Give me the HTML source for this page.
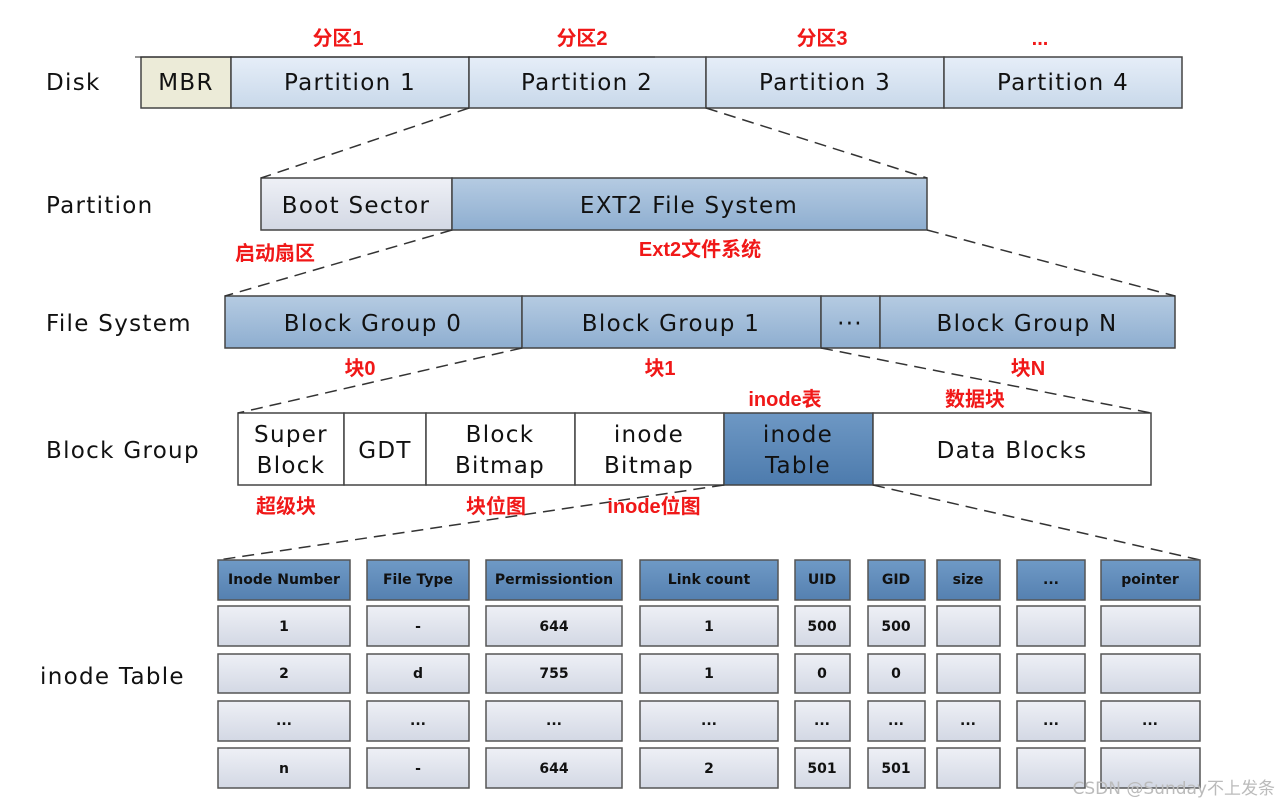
<!DOCTYPE html>
<html><head><meta charset="utf-8"><style>
html,body{margin:0;padding:0;background:#fff;}
svg{display:block;}
text{font-family:"DejaVu Sans","Noto Sans CJK SC",sans-serif;}
.l{font-size:23px;fill:#111;letter-spacing:1.3px;}
.b{font-size:23px;fill:#111;text-anchor:middle;letter-spacing:1.3px;}
.r{font-size:20px;fill:#f01818;font-weight:bold;text-anchor:middle;font-family:"Liberation Sans","Noto Sans CJK SC",sans-serif;}
.t{font-size:14px;font-weight:bold;fill:#111;text-anchor:middle;}
.d{stroke:#333;stroke-width:1.5;stroke-dasharray:12 7;fill:none;}
.c{fill:url(#gc);stroke:#555;stroke-width:1.5;}
.h{fill:url(#hd);stroke:#555;stroke-width:1.5;}
</style></head><body>
<svg width="1280" height="807" viewBox="0 0 1280 807">
<defs>
<linearGradient id="lb" x1="0" y1="0" x2="0" y2="1"><stop offset="0" stop-color="#e6eef8"/><stop offset="1" stop-color="#c8d8ea"/></linearGradient>
<linearGradient id="mb" x1="0" y1="0" x2="0" y2="1"><stop offset="0" stop-color="#b5cbe2"/><stop offset="1" stop-color="#8eaed0"/></linearGradient>
<linearGradient id="db" x1="0" y1="0" x2="0" y2="1"><stop offset="0" stop-color="#6e98c4"/><stop offset="1" stop-color="#4d7bad"/></linearGradient>
<linearGradient id="gc" x1="0" y1="0" x2="0" y2="1"><stop offset="0" stop-color="#eef0f6"/><stop offset="1" stop-color="#d3d8e4"/></linearGradient>
<linearGradient id="hd" x1="0" y1="0" x2="0" y2="1"><stop offset="0" stop-color="#6f9ac6"/><stop offset="1" stop-color="#5580b0"/></linearGradient>
</defs>
<g stroke="#444" stroke-width="1.5">
<rect x="141" y="57" width="90" height="51" fill="#ecebd8"/>
<rect x="231" y="57" width="238" height="51" fill="url(#lb)"/>
<rect x="469" y="57" width="237" height="51" fill="url(#lb)"/>
<rect x="706" y="57" width="238" height="51" fill="url(#lb)"/>
<rect x="944" y="57" width="238" height="51" fill="url(#lb)"/>
<rect x="261" y="178" width="191" height="52" fill="url(#gc)"/>
<rect x="452" y="178" width="475" height="52" fill="url(#mb)"/>
<rect x="225" y="296" width="297" height="52" fill="url(#mb)"/>
<rect x="522" y="296" width="299" height="52" fill="url(#mb)"/>
<rect x="821" y="296" width="59" height="52" fill="url(#mb)"/>
<rect x="880" y="296" width="295" height="52" fill="url(#mb)"/>
<rect x="238" y="413" width="106" height="72" fill="#fff"/>
<rect x="344" y="413" width="82" height="72" fill="#fff"/>
<rect x="426" y="413" width="149" height="72" fill="#fff"/>
<rect x="575" y="413" width="149" height="72" fill="#fff"/>
<rect x="724" y="413" width="149" height="72" fill="url(#db)"/>
<rect x="873" y="413" width="278" height="72" fill="#fff"/>
</g>
<line x1="135" y1="57" x2="655" y2="57" stroke="#222" stroke-width="1"/>
<path class="d" d="M469 108L261 178M706 108L927 178M452 230L225 296M927 230L1175 296M522 348L238 413M821 348L1151 413M724 485L218 560M873 485L1200 560"/>
<text class="l" x="46" y="90">Disk</text>
<text class="l" x="46" y="213">Partition</text>
<text class="l" x="46" y="331">File System</text>
<text class="l" x="46" y="458">Block Group</text>
<text class="l" x="40" y="684">inode Table</text>
<text class="b" x="186" y="90">MBR</text>
<text class="b" x="350" y="90">Partition 1</text>
<text class="b" x="587" y="90">Partition 2</text>
<text class="b" x="825" y="90">Partition 3</text>
<text class="b" x="1063" y="90">Partition 4</text>
<text class="b" x="356" y="213">Boot Sector</text>
<text class="b" x="689" y="213">EXT2 File System</text>
<text class="b" x="373" y="331">Block Group 0</text>
<text class="b" x="671" y="331">Block Group 1</text>
<text class="b" x="850" y="331">···</text>
<text class="b" x="1027" y="331">Block Group N</text>
<text class="b" x="291" y="442">Super</text><text class="b" x="291" y="473">Block</text>
<text class="b" x="385" y="458">GDT</text>
<text class="b" x="500" y="442">Block</text><text class="b" x="500" y="473">Bitmap</text>
<text class="b" x="649" y="442">inode</text><text class="b" x="649" y="473">Bitmap</text>
<text class="b" x="798" y="442">inode</text><text class="b" x="798" y="473">Table</text>
<text class="b" x="1012" y="458">Data Blocks</text>
<text class="r" x="338" y="45">分区1</text>
<text class="r" x="582" y="45">分区2</text>
<text class="r" x="822" y="45">分区3</text>
<text class="r" x="1040" y="45">...</text>
<text class="r" x="275" y="260">启动扇区</text>
<text class="r" x="700" y="256">Ext2文件系统</text>
<text class="r" x="360" y="375">块0</text>
<text class="r" x="660" y="375">块1</text>
<text class="r" x="1028" y="375">块N</text>
<text class="r" x="785" y="406">inode表</text>
<text class="r" x="975" y="406">数据块</text>
<text class="r" x="286" y="513">超级块</text>
<text class="r" x="496" y="513">块位图</text>
<text class="r" x="654" y="513">inode位图</text>

<rect class="h" x="218" y="560" width="132" height="40"/><rect class="h" x="367" y="560" width="102" height="40"/><rect class="h" x="486" y="560" width="136" height="40"/><rect class="h" x="640" y="560" width="138" height="40"/><rect class="h" x="795" y="560" width="55" height="40"/><rect class="h" x="868" y="560" width="57" height="40"/><rect class="h" x="937" y="560" width="63" height="40"/><rect class="h" x="1017" y="560" width="68" height="40"/><rect class="h" x="1101" y="560" width="99" height="40"/>
<text class="t" x="284" y="584">Inode Number</text><text class="t" x="418" y="584">File Type</text><text class="t" x="554" y="584">Permissiontion</text><text class="t" x="709" y="584">Link count</text><text class="t" x="822" y="584">UID</text><text class="t" x="896" y="584">GID</text><text class="t" x="968" y="584">size</text><text class="t" x="1051" y="584">...</text><text class="t" x="1150" y="584">pointer</text>

<g>
<rect class="c" x="218" y="606" width="132" height="40"/><rect class="c" x="367" y="606" width="102" height="40"/><rect class="c" x="486" y="606" width="136" height="40"/><rect class="c" x="640" y="606" width="138" height="40"/><rect class="c" x="795" y="606" width="55" height="40"/><rect class="c" x="868" y="606" width="57" height="40"/><rect class="c" x="937" y="606" width="63" height="40"/><rect class="c" x="1017" y="606" width="68" height="40"/><rect class="c" x="1101" y="606" width="99" height="40"/>
<rect class="c" x="218" y="654" width="132" height="39"/><rect class="c" x="367" y="654" width="102" height="39"/><rect class="c" x="486" y="654" width="136" height="39"/><rect class="c" x="640" y="654" width="138" height="39"/><rect class="c" x="795" y="654" width="55" height="39"/><rect class="c" x="868" y="654" width="57" height="39"/><rect class="c" x="937" y="654" width="63" height="39"/><rect class="c" x="1017" y="654" width="68" height="39"/><rect class="c" x="1101" y="654" width="99" height="39"/>
<rect class="c" x="218" y="701" width="132" height="40"/><rect class="c" x="367" y="701" width="102" height="40"/><rect class="c" x="486" y="701" width="136" height="40"/><rect class="c" x="640" y="701" width="138" height="40"/><rect class="c" x="795" y="701" width="55" height="40"/><rect class="c" x="868" y="701" width="57" height="40"/><rect class="c" x="937" y="701" width="63" height="40"/><rect class="c" x="1017" y="701" width="68" height="40"/><rect class="c" x="1101" y="701" width="99" height="40"/>
<rect class="c" x="218" y="748" width="132" height="40"/><rect class="c" x="367" y="748" width="102" height="40"/><rect class="c" x="486" y="748" width="136" height="40"/><rect class="c" x="640" y="748" width="138" height="40"/><rect class="c" x="795" y="748" width="55" height="40"/><rect class="c" x="868" y="748" width="57" height="40"/><rect class="c" x="937" y="748" width="63" height="40"/><rect class="c" x="1017" y="748" width="68" height="40"/><rect class="c" x="1101" y="748" width="99" height="40"/>
</g>
<text class="t" x="284" y="631">1</text><text class="t" x="418" y="631">-</text><text class="t" x="554" y="631">644</text><text class="t" x="709" y="631">1</text><text class="t" x="822" y="631">500</text><text class="t" x="896" y="631">500</text>
<text class="t" x="284" y="678">2</text><text class="t" x="418" y="678">d</text><text class="t" x="554" y="678">755</text><text class="t" x="709" y="678">1</text><text class="t" x="822" y="678">0</text><text class="t" x="896" y="678">0</text>
<g><text class="t" x="284" y="725">...</text><text class="t" x="418" y="725">...</text><text class="t" x="554" y="725">...</text><text class="t" x="709" y="725">...</text><text class="t" x="822" y="725">...</text><text class="t" x="896" y="725">...</text><text class="t" x="968" y="725">...</text><text class="t" x="1051" y="725">...</text><text class="t" x="1150" y="725">...</text></g>
<text class="t" x="284" y="773">n</text><text class="t" x="418" y="773">-</text><text class="t" x="554" y="773">644</text><text class="t" x="709" y="773">2</text><text class="t" x="822" y="773">501</text><text class="t" x="896" y="773">501</text>
<text x="1275" y="794" font-size="17" fill="#bbb" text-anchor="end" font-family="Liberation Sans, Noto Sans CJK SC, sans-serif">CSDN @Sunday不上发条</text>
</svg>
</body></html>
